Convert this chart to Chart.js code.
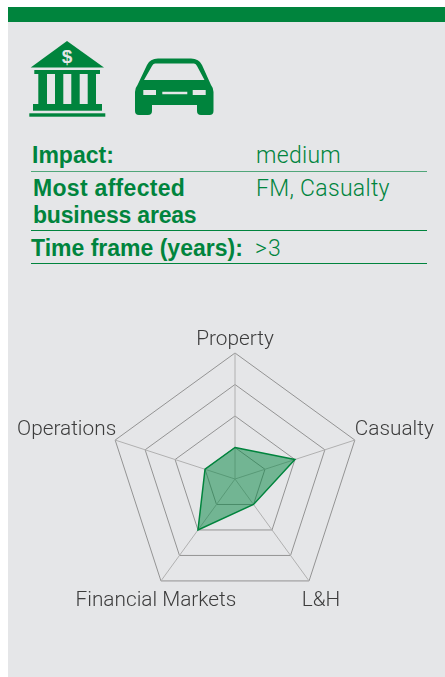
<!DOCTYPE html>
<html>
<head>
<meta charset="utf-8">
<script src="https://cdn.jsdelivr.net/npm/chart.js@4"></script>
<style>
html, body { margin: 0; padding: 0; background: #fff; }
#page { position: relative; width: 445px; height: 677px; overflow: hidden; }
#panel { position: absolute; left: 8px; top: 8px; width: 437px; height: 669px; background: #e5e6e8; }
#band { position: absolute; left: 8px; top: 7px; width: 437px; height: 15px; background: #00843d; }
#icons { position: absolute; left: 0; top: 0; }
.t { position: absolute; color: #00843d; white-space: nowrap; font-size: 23px; line-height: 27px; }
.b { font-family: "Liberation Sans", Arial, sans-serif; font-weight: 700; }
.v { font-family: Roboto, sans-serif; font-weight: 300; letter-spacing: 0.3px; }
.r { position: absolute; left: 31px; width: 396px; height: 1px; background: #00843d; }
#wrap { position: absolute; left: 0; top: 322px; width: 445px; height: 318px; }
</style>
</head>
<body>
<div id="page">
  <div id="panel"></div>
  <div id="band"></div>
  <svg id="icons" width="445" height="130" viewBox="0 0 445 130">
    <g fill="#00843d">
      <path d="M67 41 L104 67.5 H30.7 Z"/>
      <rect x="34.3" y="70" width="65.7" height="4"/>
      <rect x="38.3" y="74" width="8.7" height="30"/>
      <rect x="55" y="74" width="8.3" height="30"/>
      <rect x="71.3" y="74" width="8.4" height="30"/>
      <rect x="87.7" y="74" width="8.3" height="30"/>
      <rect x="33" y="104" width="69" height="6.7"/>
      <rect x="29.3" y="113.3" width="76" height="3.4"/>
      <path fill-rule="evenodd" d="M158 58.5 H191 Q199 58.5 202 65 L211 85 Q213.5 88 213.5 92 V111 Q213.5 115 209.5 115 H201 Q197 115 197 111 V105 H152 V111 Q152 115 148 115 H139 Q135 115 135 111 V92 Q135 88 137.5 85 L147 65 Q150 58.5 158 58.5 Z
        M155 63.5 Q153 63.5 152 66 L144 80 H204.5 L197 66 Q196 63.5 194 63.5 Z
        M143.3 90 H156 V95 H143.3 Z M162.3 91.7 H187.3 V94.3 H162.3 Z M192.7 90 H205.7 V95 H192.7 Z"/>
    </g>
    <text x="67" y="63" text-anchor="middle" fill="#e5e6e8" font-family="Liberation Sans, Arial, sans-serif" font-weight="700" font-size="19">$</text>
  </svg>

  <div class="t b" style="left:32px;top:142px">Impact:</div>
  <div class="t v" style="left:256px;top:142px">medium</div>
  <div class="r" style="top:171px;opacity:.65"></div>
  <div class="t b" style="left:33px;top:175px;letter-spacing:.3px">Most affected</div>
  <div class="t v" style="left:256px;top:175px">FM, Casualty</div>
  <div class="t b" style="left:33px;top:202px;letter-spacing:-.2px">business areas</div>
  <div class="r" style="top:230px"></div>
  <div class="t b" style="left:31px;top:235px">Time frame (years):</div>
  <div class="t v" style="left:255px;top:235px;letter-spacing:1px">&gt;3</div>
  <div class="r" style="top:263px"></div>

  <div id="wrap"><canvas id="radar"></canvas></div>
</div>

<script>
var categories = ['Property', 'Casualty', 'L&H', 'Financial Markets', 'Operations'];
var values = [1, 2, 1, 2, 1];
var axisMax = 4;
var axisStep = 1;

// The labels sit off the vertices in the original, so they are drawn here instead of by pointLabels
var labelPlacement = [
    { align: 'center', dx: 0, dy: -13 },
    { align: 'left', dx: 0, dy: -10 },
    { align: 'center', dx: 12, dy: 20 },
    { align: 'center', dx: -5, dy: 20 },
    { align: 'right', dx: 1, dy: -10 }
];

var spokeLabels = {
    id: 'spokeLabels',
    afterDraw: function(chart) {
        var scale = chart.scales.r;
        var ctx = chart.ctx;
        ctx.save();
        ctx.font = '300 20.8px Roboto, sans-serif';
        ctx.fillStyle = '#3c3c3c';
        ctx.textBaseline = 'middle';
        categories.forEach(function(name, i) {
            var pos = scale.getPointPosition(i, scale.drawingArea);
            ctx.textAlign = labelPlacement[i].align;
            ctx.fillText(name, pos.x + labelPlacement[i].dx, pos.y + labelPlacement[i].dy);
        });
        ctx.restore();
    }
};

new Chart(document.getElementById('radar').getContext('2d'), {
    type: 'radar',
    data: {
        labels: categories,
        datasets: [{
            data: values,
            borderColor: '#00843d',
            borderWidth: 1.5,
            backgroundColor: 'rgba(0, 132, 61, 0.5)',
            pointRadius: 0,
            fill: true
        }]
    },
    options: {
        responsive: true,
        maintainAspectRatio: false,
        animation: false,
        layout: { padding: { left: 26, right: 0, top: 31, bottom: 35 } },
        plugins: { legend: { display: false }, tooltip: { enabled: false } },
        scales: {
            r: {
                min: 0,
                max: axisMax,
                ticks: { display: false, stepSize: axisStep },
                pointLabels: { display: false },
                grid: { color: '#939393', lineWidth: 1 },
                angleLines: { color: '#b0b0b0', lineWidth: 1 }
            }
        }
    },
    plugins: [spokeLabels]
});
</script>
</body>
</html>
